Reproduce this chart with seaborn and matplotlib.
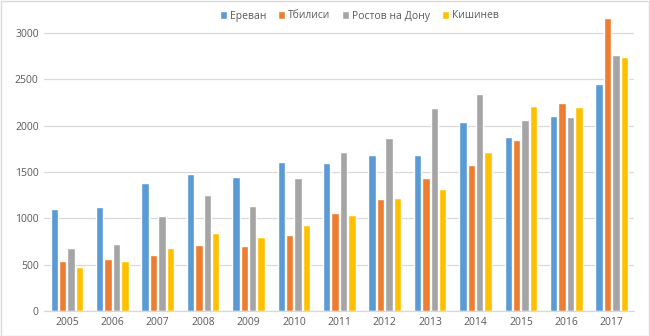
import matplotlib
matplotlib.use("Agg")
import matplotlib.pyplot as plt
import seaborn as sns
import pandas as pd
from matplotlib.patches import Rectangle

years = ["2005", "2006", "2007", "2008", "2009", "2010", "2011",
         "2012", "2013", "2014", "2015", "2016", "2017"]
yerevan = [1105, 1125, 1380, 1478, 1446, 1607, 1600, 1683, 1683, 2039, 1877, 2104, 2449]
tbilisi = [543, 561, 604, 712, 701, 820, 1061, 1208, 1435, 1575, 1845, 2244, 3164]
rostov = [680, 723, 1025, 1251, 1133, 1435, 1715, 1866, 2190, 2341, 2060, 2093, 2762]
chisinau = [475, 543, 680, 845, 802, 931, 1036, 1219, 1316, 1715, 2211, 2200, 2740]
series_names = ["Ереван", "Тбилиси", "Ростов на Дону", "Кишинев"]
colors = ["#5B9BD5", "#ED7D31", "#A5A5A5", "#FFC000"]
yticks = [0, 500, 1000, 1500, 2000, 2500, 3000]

rows = []
for name, vals in zip(series_names, [yerevan, tbilisi, rostov, chisinau]):
    for y, v in zip(years, vals):
        rows.append({"year": y, "city": name, "value": v})
df = pd.DataFrame(rows)

sns.set_theme(style="white")
plt.rcParams["font.family"] = ["Open Sans", "DejaVu Sans"]

fig = plt.figure(figsize=(6.5, 3.36), dpi=100)
# 0 at y=311px, 3000 at y=33px -> 3200 at ~14.5px
ax = fig.add_axes([0.068, 25 / 336, 0.908, 296.5 / 336])

sns.barplot(data=df, x="year", y="value", hue="city", palette=colors,
            width=0.74, gap=0.14, ax=ax, legend=True, saturation=1)

ax.set_ylim(0, 3200)
ax.set_yticks(yticks)
ax.set_yticklabels([str(t) for t in yticks])
ax.set_xlim(-0.5, len(years) - 0.5)
ax.set_xlabel("")
ax.set_ylabel("")
ax.yaxis.grid(True, color="#D9D9D9", linewidth=0.9)
ax.set_axisbelow(True)
for s in ["top", "right", "left"]:
    ax.spines[s].set_visible(False)
ax.spines["bottom"].set_color("#D9D9D9")
ax.spines["bottom"].set_linewidth(0.9)
ax.tick_params(axis="both", length=0, labelsize=7.5, colors="#595959", pad=4)

handles, labels = ax.get_legend_handles_labels()
ax.get_legend().remove()
leg = fig.legend(handles, labels, loc="center", bbox_to_anchor=(0.553, 1 - 16 / 336),
                 ncol=4, frameon=False, fontsize=7.5, handlelength=0.7, handleheight=0.7,
                 handletextpad=0.3, columnspacing=1.1)
for t in leg.get_texts():
    t.set_color("#595959")

fig.patches.append(Rectangle((0.001, 0.001), 0.997, 0.996, transform=fig.transFigure,
                             fill=False, edgecolor="#D9D9D9", linewidth=1))

fig.savefig("out.png", dpi=100)
